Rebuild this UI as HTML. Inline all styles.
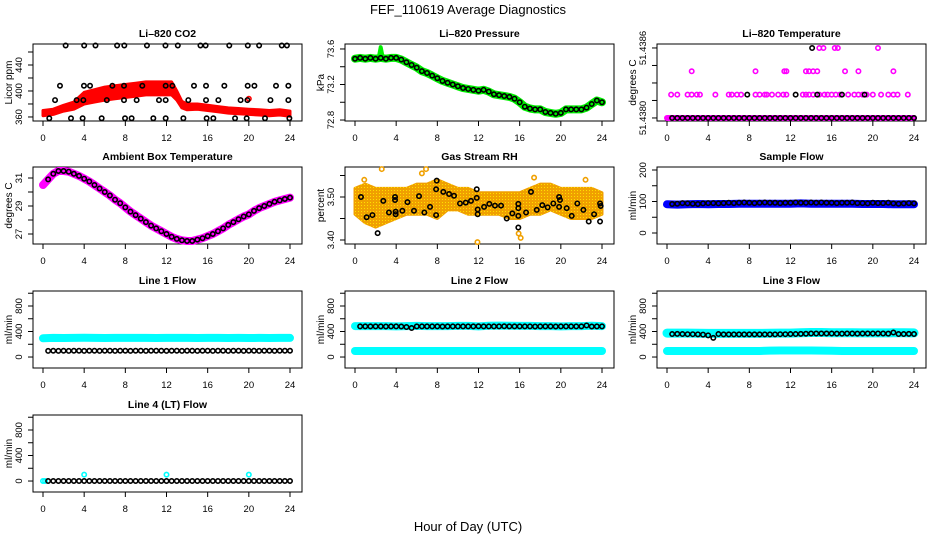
<!DOCTYPE html>
<html><head><meta charset="utf-8"><title>FEF_110619 Average Diagnostics</title>
<style>
html,body{margin:0;padding:0;background:#fff;}
svg{display:block;font-family:"Liberation Sans",Arial,sans-serif;}
</style></head>
<body>
<svg id="chart" width="936" height="540" viewBox="0 0 936 540" xmlns="http://www.w3.org/2000/svg">
<defs>
<pattern id="orangeDots" width="3" height="3" patternUnits="userSpaceOnUse">
<rect width="3" height="3" fill="#f0a000"/>
<rect x="1" y="1" width="1" height="1" fill="#ffe000"/>
</pattern>
</defs>
<rect width="936" height="540" fill="#fff"/>
<text x="468" y="14" text-anchor="middle" font-size="13">FEF_110619  Average Diagnostics</text>
<text x="468" y="531" text-anchor="middle" font-size="13">Hour of Day (UTC)</text>
</svg>
<script>
// ---------- data ----------
const xTicks = [0,4,8,12,16,20,24];
const halfHours = [0,0.5,1,1.5,2,2.5,3,3.5,4,4.5,5,5.5,6,6.5,7,7.5,8,8.5,9,9.5,10,10.5,11,11.5,12,12.5,13,13.5,14,14.5,15,15.5,16,16.5,17,17.5,18,18.5,19,19.5,20,20.5,21,21.5,22,22.5,23,23.5,24];
const hourly = [0,1,2,3,4,5,6,7,8,9,10,11,12,13,14,15,16,17,18,19,20,21,22,23,24];

// CO2
const co2Hours = [2.2,4.0,5.1,7.2,7.9,10.1,11.9,13.1,15.3,15.8,18.1,19.9,21.0,23.2,23.7,
 1.65,3.98,4.57,6.74,7.87,9.65,11.92,12.57,14.67,15.84,17.62,19.89,20.54,22.64,23.84,
 1.17,3.27,3.92,6.2,7.87,9.1,11.27,11.92,14.12,15.84,17.04,19.2,19.86,22.1,23.84,
 0.61,2.72,3.85,5.7,7.97,8.61,10.72,11.92,13.64,15.9,16.55,18.66,19.79,21.57,23.94];
const co2Vals = [470,470,470,470,470,470,470,470,470,470,470,470,470,470,470,
 408,408,408,408,408,408,408,408,408,408,408,408,408,408,408,
 386,386,386,386,386,386,386,386,386,386,386,386,386,386,386,
 358,358,358,358,358,358,358,358,358,358,358,358,358,358,358];
const co2BandHours = [0,1,2,3,4,5,6,7,8,9,10,11,12,12.5,13,13.5,14,15,16,17,18,19,20,21,22,23,24];
const co2BandLo = [362,364,369,372,380,383,386,388,390,392,394,394,394,394,386,374,371,372,370,368,366,365,364,363,362,363,361];
const co2BandHi = [370,372,378,383,398,402,406,408,410,412,414,414,414,414,400,384,380,380,378,376,374,373,372,371,370,371,369];

// Pressure
const pressVals = [73.49,73.5,73.49,73.5,73.49,73.5,73.49,73.5,73.5,73.48,73.45,73.42,73.39,73.35,73.33,73.3,73.27,73.24,73.22,73.2,73.18,73.16,73.15,73.14,73.13,73.14,73.12,73.09,73.08,73.07,73.06,73.04,73.0,72.95,72.93,72.92,72.92,72.89,72.88,72.87,72.88,72.92,72.92,72.92,72.92,72.94,72.98,73.02,73.0];
const pressSpikeHours = [2.5];
const pressSpikeVals = [73.62];

// Li-820 temperature
const tempBlackHours = [7.8,12.5,14.6,17.0,19.2,14.1];
const tempBlackVals = [51.4382,51.4382,51.4382,51.4382,51.4382,51.4386];
const tempMagHours = [0.4,1.0,2.0,2.4,2.9,3.2,4.7,6.0,6.3,6.8,7.2,8.6,9.0,9.5,9.7,10.2,10.8,11.3,11.6,13.2,13.5,13.8,14.2,14.8,15.3,15.6,16.0,16.4,16.8,17.6,18.2,18.6,19.0,19.4,20.0,20.8,21.5,22.0,22.4,23.4,
 2.4,8.6,11.4,11.6,13.5,13.8,14.2,14.6,17.3,18.6,22.0,
 14.8,15.2,16.3,16.6,20.5];
const tempMagVals = [51.4382,51.4382,51.4382,51.4382,51.4382,51.4382,51.4382,51.4382,51.4382,51.4382,51.4382,51.4382,51.4382,51.4382,51.4382,51.4382,51.4382,51.4382,51.4382,51.4382,51.4382,51.4382,51.4382,51.4382,51.4382,51.4382,51.4382,51.4382,51.4382,51.4382,51.4382,51.4382,51.4382,51.4382,51.4382,51.4382,51.4382,51.4382,51.4382,51.4382,
 51.4384,51.4384,51.4384,51.4384,51.4384,51.4384,51.4384,51.4384,51.4384,51.4384,51.4384,
 51.4386,51.4386,51.4386,51.4386,51.4386];
const tempBaseVals = [51.4380,51.4380,51.4380,51.4380,51.4380,51.4380,51.4380,51.4380,51.4380,51.4380,51.4380,51.4380,51.4380,51.4380,51.4380,51.4380,51.4380,51.4380,51.4380,51.4380,51.4380,51.4380,51.4380,51.4380,51.4380,51.4380,51.4380,51.4380,51.4380,51.4380,51.4380,51.4380,51.4380,51.4380,51.4380,51.4380,51.4380,51.4380,51.4380,51.4380,51.4380,51.4380,51.4380,51.4380,51.4380,51.4380,51.4380,51.4380,51.4380];

// Ambient box temperature
const ambVals = [30.5,30.9,31.3,31.5,31.5,31.45,31.3,31.15,30.95,30.75,30.5,30.25,30.0,29.75,29.45,29.2,28.9,28.6,28.35,28.1,27.85,27.6,27.4,27.2,27.0,26.8,26.65,26.55,26.5,26.5,26.6,26.7,26.85,27.0,27.2,27.4,27.65,27.85,28.05,28.25,28.4,28.65,28.85,29.0,29.15,29.3,29.4,29.5,29.6];

// Gas stream RH
const rhHours = [0.58,1.13,1.69,2.2,2.75,3.3,3.89,3.89,3.95,3.95,4.6,5.1,5.73,6.22,6.74,7.29,7.94,7.88,7.88,8.58,9.14,9.62,10.2,10.76,11.27,11.83,11.83,11.92,11.92,12.54,13.05,13.6,14.19,14.74,15.29,15.87,15.87,15.87,15.87,16.62,17.1,17.66,18.2,18.72,19.27,19.83,19.92,19.83,20.57,21.06,21.6,22.19,22.71,23.23,23.81,23.87,23.81];
const rhVals = [3.500,3.453,3.458,3.416,3.491,3.464,3.500,3.493,3.466,3.460,3.468,3.488,3.468,3.502,3.464,3.477,3.538,3.518,3.458,3.512,3.507,3.503,3.485,3.487,3.491,3.518,3.498,3.471,3.460,3.477,3.484,3.480,3.480,3.450,3.462,3.484,3.474,3.456,3.429,3.464,3.512,3.470,3.481,3.476,3.485,3.500,3.493,3.477,3.474,3.456,3.485,3.470,3.443,3.460,3.485,3.479,3.443];
const rhBandLo = [3.46,3.44,3.43,3.44,3.45,3.46,3.46,3.46,3.45,3.47,3.47,3.46,3.46,3.46,3.46,3.45,3.45,3.46,3.46,3.47,3.46,3.45,3.45,3.45,3.46];
const rhBandHi = [3.52,3.53,3.52,3.52,3.52,3.52,3.53,3.53,3.54,3.53,3.52,3.52,3.51,3.51,3.51,3.51,3.51,3.52,3.53,3.53,3.52,3.52,3.52,3.52,3.51];

// Sample flow
const sampleBlack = [92,92,93,95,94,93,92,94,95,95,94,95,96,95,96,97,96,95,96,97,96,96,95,96,96,97,96,96,97,96,97,96,96,95,96,96,97,95,95,94,96,95,95,96,94,93,94,95,94];
const sampleBlue = [91,90,91,92,91,92,92,93,93,93,93,93,93,94,93,93,93,93,93,92,92,92,91,91,91];

// Line flows
const line1Cyan = [295,300,298,300,302,300,298,300,300,300,300,298,300,300,300,298,300,300,298,300,298,300,298,300,300];
const line1Black = [98,97,98,97,98,97,98,98,97,98,98,97,98,98,97,98,98,97,98,98,97,98,98,98,97,98,98,97,98,98,97,98,98,97,98,98,97,98,98,97,98,98,97,98,98,97,98,98,98];
const line2Black = [480,480,480,480,480,480,478,480,480,478,470,455,480,480,480,480,480,478,480,480,480,480,480,480,482,480,480,480,480,482,480,480,480,480,480,478,480,480,480,478,480,480,480,480,480,495,478,480,480];
const line2CyanHi = [485,485,485,485,480,485,488,485,485,485,488,488,480,490,492,490,488,488,485,485,480,485,485,490,485];
const line2CyanLo = [95,95,95,95,95,95,95,95,95,95,95,95,95,95,95,95,95,95,95,95,95,95,95,95,95];
const line3Black = [360,360,362,360,358,358,356,352,340,300,360,355,355,355,355,355,355,355,355,355,355,355,358,358,360,360,362,365,368,368,368,368,368,366,366,368,368,366,368,368,368,368,368,366,385,360,360,362,360];
const line3CyanHi = [375,375,375,372,370,370,370,370,370,370,372,375,375,380,385,385,380,380,380,378,378,378,380,380,378];
const line3CyanLo = [95,95,95,95,95,95,95,95,95,95,100,102,102,102,102,100,98,95,95,95,95,95,95,95,95];
const line4Black = [0,0,0,0,0,0,0,0,0,0,0,0,0,0,0,0,0,0,0,0,0,0,0,0,0,0,0,0,0,0,0,0,0,0,0,0,0,0,0,0,0,0,0,0,0,0,0,0,0];
const line4CyanHours = [0,0.2,4,12,20];
const line4CyanVals = [0,0,100,100,100];

// ---------- drawing helpers ----------
const svg = document.getElementById('chart');
const NS = 'http://www.w3.org/2000/svg';
function el(tag, attrs, parent) {
  const e = document.createElementNS(NS, tag);
  for (const k in attrs) e.setAttribute(k, attrs[k]);
  (parent || svg).appendChild(e);
  return e;
}
const rowTops = [44, 167, 291, 415];
const W = 269, H = 77;

function makePanel(col, row, ymin, ymax, yTicks, yLabels, title, ylab, name) {
  const left = col * 312 + 33, top = rowTops[row];
  const g = el('g', {});
  
  
  const x = h => left + 10 + h * (247 / 24);
  const y = v => top + H - (v - ymin) / (ymax - ymin) * H;
  const frame = el('rect', {x: left, y: top, width: W, height: H, fill: 'none', stroke: '#000', 'stroke-width': 1}, g);
  
  
  const t = el('text', {x: left + W / 2, y: top - 7, 'text-anchor': 'middle', 'font-size': 10.5, 'font-weight': 'bold'}, g);
  t.textContent = title;
  
  
  const xa = el('g', {}, g);
  
  
  el('line', {x1: x(0), x2: x(24), y1: top + H, y2: top + H, stroke: '#000'}, xa);
  xTicks.forEach(v => {
    el('line', {x1: x(v), x2: x(v), y1: top + H, y2: top + H + 5, stroke: '#000'}, xa);
    const lt = el('text', {x: x(v), y: top + H + 20, 'text-anchor': 'middle', 'font-size': 9.5}, xa);
    lt.textContent = v;
    
    
  });
  const ya = el('g', {}, g);
  
  
  el('line', {x1: left, x2: left, y1: y(yTicks[0]), y2: y(yTicks[yTicks.length - 1]), stroke: '#000'}, ya);
  yTicks.forEach(v => {
    el('line', {x1: left - 5, x2: left, y1: y(v), y2: y(v), stroke: '#000'}, ya);
  });
  yLabels.forEach(lab => {
    const yy = y(parseFloat(lab));
    const lt = el('text', {x: 0, y: 0, 'text-anchor': 'middle', 'font-size': 9.5, transform: 'translate(' + (left - 11) + ',' + yy + ') rotate(-90)'}, ya);
    lt.textContent = lab;
    
    
  });
  const yl = el('text', {x: 0, y: 0, 'text-anchor': 'middle', 'font-size': 10, transform: 'translate(' + (left - 21) + ',' + (top + H / 2) + ') rotate(-90)'}, g);
  yl.textContent = ylab;
  
  
  return {x, y, g};
}
function circles(p, hours, vals, color, name, r) {
  const g = el('g', {}, p.g);
  
  
  hours.forEach((h, i) => {
    const c = el('circle', {cx: p.x(h), cy: p.y(vals[i]), r: r || 2.2, fill: 'none', stroke: color, 'stroke-width': 1.6}, g);
    
    
  });
}
function band(p, hours, vals, color, w, name) {
  const pts = hours.map((h, i) => p.x(h).toFixed(1) + ',' + p.y(vals[i]).toFixed(1)).join(' ');
  const l = el('polyline', {points: pts, fill: 'none', stroke: color, 'stroke-width': w, 'stroke-linejoin': 'round', 'stroke-linecap': 'round'}, p.g);
  
  
}
function area(p, hours, lo, hi, fill, name) {
  const a = hours.map((h, i) => p.x(h).toFixed(1) + ',' + p.y(hi[i]).toFixed(1));
  const b = hours.slice().reverse().map((h, j) => { const i = hours.length - 1 - j; return p.x(h).toFixed(1) + ',' + p.y(lo[i]).toFixed(1); });
  const poly = el('polygon', {points: a.concat(b).join(' '), fill: fill, stroke: fill, 'stroke-width': 3, 'stroke-linejoin': 'round'}, p.g);
  
  
}
const flowTicks = [0,200,400,600,800,1000];
const flowLabels = ['0','400','800'];

// ---------- panels ----------
const pCO2 = makePanel(0, 0, 353.8, 472.3, [360,380,400,420,440,460], ['360','400','440'], 'Li\u2013820 CO2', 'Licor ppm', 'co2');
area(pCO2, co2BandHours, co2BandLo, co2BandHi, '#ff0000', 'co2-raw-band');
circles(pCO2, [20], [388], '#ff0000', 'co2-raw-outlier');
circles(pCO2, co2Hours, co2Vals, '#000', 'co2-average');

const pP = makePanel(1, 0, 72.789, 73.656, [72.8,73.0,73.2,73.4,73.6], ['72.8','73.2','73.6'], 'Li\u2013820 Pressure', 'kPa', 'pressure');
band(pP, halfHours, pressVals, '#00ee00', 8, 'pressure-raw-band');
band(pP, [2.3,2.5,2.7], [73.5,pressSpikeVals[0],73.5], '#00ee00', 4, 'pressure-raw-spike');
circles(pP, halfHours, pressVals, '#000', 'pressure-average');

const pT = makePanel(2, 0, 51.437974, 51.438634, [51.4380,51.43815,51.4383,51.43845,51.4386], ['51.4380','51.4386'], 'Li\u2013820 Temperature', 'degrees C', 'li820-temp');
band(pT, [0,24], [51.4380,51.4380], '#ff00ff', 6, 'li820-temp-raw-base');
circles(pT, tempMagHours, tempMagVals, '#ff00ff', 'li820-temp-raw');
circles(pT, halfHours.slice(1), tempBaseVals.slice(1), '#000', 'li820-temp-average');
circles(pT, tempBlackHours, tempBlackVals, '#000', 'li820-temp-average-high');

const pA = makePanel(0, 1, 26.286, 31.786, [27,28,29,30,31], ['27','29','31'], 'Ambient Box Temperature', 'degrees C', 'ambient');
band(pA, halfHours, ambVals, '#ff00ff', 8, 'ambient-raw-band');
circles(pA, halfHours.slice(1), ambVals.slice(1), '#000', 'ambient-average');

const pR = makePanel(1, 1, 3.3907, 3.5698, [3.40,3.45,3.50,3.55], ['3.40','3.50'], 'Gas Stream RH', 'percent', 'rh');
area(pR, hourly, rhBandLo, rhBandHi, 'url(#orangeDots)', 'rh-raw-cloud');
circles(pR, [2.6,6.5,6.9,11.9,17.4,15.9,16.1,0.9,22.4], [3.565,3.555,3.565,3.395,3.545,3.415,3.405,3.54,3.54], '#f0a000', 'rh-raw-outlier');
circles(pR, rhHours, rhVals, '#000', 'rh-average');

const pS = makePanel(2, 1, -34.9, 209.5, [0,50,100,150,200], ['0','100','200'], 'Sample Flow', 'ml/min', 'sample-flow');
band(pS, hourly, sampleBlue, '#0000ff', 8, 'sample-flow-raw-band');
circles(pS, halfHours.slice(1), sampleBlack.slice(1), '#000', 'sample-flow-average');

const pL1 = makePanel(0, 2, -172, 1035, flowTicks, flowLabels, 'Line 1 Flow', 'ml/min', 'line1-flow');
band(pL1, hourly, line1Cyan, '#00ffff', 8, 'line1-flow-raw-band');
circles(pL1, halfHours.slice(1), line1Black.slice(1), '#000', 'line1-flow-average');

const pL2 = makePanel(1, 2, -172, 1035, flowTicks, flowLabels, 'Line 2 Flow', 'ml/min', 'line2-flow');
band(pL2, hourly, line2CyanHi, '#00ffff', 8, 'line2-flow-raw-band-high');
band(pL2, hourly, line2CyanLo, '#00ffff', 8, 'line2-flow-raw-band-low');
circles(pL2, halfHours.slice(1), line2Black.slice(1), '#000', 'line2-flow-average');

const pL3 = makePanel(2, 2, -172, 1035, flowTicks, flowLabels, 'Line 3 Flow', 'ml/min', 'line3-flow');
band(pL3, hourly, line3CyanHi, '#00ffff', 9, 'line3-flow-raw-band-high');
band(pL3, hourly, line3CyanLo, '#00ffff', 8, 'line3-flow-raw-band-low');
circles(pL3, halfHours.slice(1), line3Black.slice(1), '#000', 'line3-flow-average');

const pL4 = makePanel(0, 3, -172, 1035, flowTicks, flowLabels, 'Line 4 (LT) Flow', 'ml/min', 'line4-flow');
circles(pL4, line4CyanHours, line4CyanVals, '#00ffff', 'line4-flow-raw');
circles(pL4, halfHours.slice(1), line4Black.slice(1), '#000', 'line4-flow-average');
</script>
</body></html>
